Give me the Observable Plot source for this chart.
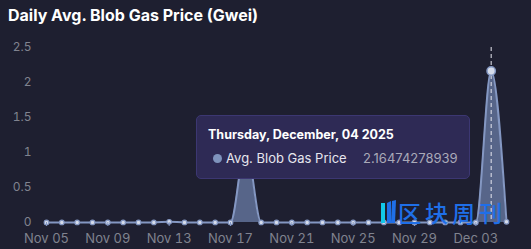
<!DOCTYPE html>
<html><head><meta charset="utf-8">
<script src="https://cdn.jsdelivr.net/npm/d3@7"></script>
<script src="https://cdn.jsdelivr.net/npm/@observablehq/plot@0.6"></script>
<style>
html,body{margin:0;padding:0;background:#1e1f30;}
#wrap{position:relative;width:531px;height:249px;overflow:hidden;font-family:Inter,"Noto Sans",sans-serif;}
#title{height:30px;line-height:30px;padding-left:8px;color:#fff;font-weight:700;font-size:16px;}
#tip{position:absolute;left:196px;top:115px;width:274px;height:64px;background:#2e2a55;border:1px solid #3c3772;border-radius:5px;box-sizing:border-box;}
#tip .h{position:absolute;left:11px;top:11px;color:#fff;font-weight:700;font-size:12.5px;white-space:nowrap;}
#tip .dot{position:absolute;left:16px;top:38px;width:9px;height:9px;border-radius:50%;background:#7f93bd;}
#tip .n{position:absolute;left:29px;top:34px;color:#e6e6ee;font-size:13px;white-space:nowrap;}
#tip .v{position:absolute;left:166px;top:34px;color:#a9a9b8;font-size:13px;white-space:nowrap;}
#wm{position:absolute;left:380px;top:200px;height:24px;white-space:nowrap;}
#wm .t{position:absolute;left:18px;top:1px;color:#1f6fe8;font-size:23px;line-height:23px;font-family:"Noto Sans CJK SC",sans-serif;font-weight:500;letter-spacing:4px;}
</style></head>
<body><div id="wrap"><div id="title">Daily Avg. Blob Gas Price (Gwei)</div><div id="chart"></div>
<div id="tip"><div class="h">Thursday, December, 04 2025</div><div class="dot"></div><div class="n">Avg. Blob Gas Price</div><div class="v">2.16474278939</div></div>
<div id="wm"><svg width="16" height="24" style="position:absolute;left:0;top:0"><polygon points="1,3 5,3 5,23 1,23" fill="#12c8e8"/><polygon points="7,3 11,1 11,23 7,23" fill="#1f6fe8"/><polygon points="12,1 16,0 15,23 11,23" fill="#1f6fe8"/></svg><span class="t">区块周刊</span></div>
</div>
<script>
const startDate = "2025-11-05";
const values = [0.001,0.001,0.001,0.001,0.001,0.001,0.001,0.001,0.01,0.001,0.001,0.001,0.001,1.1,0.001,0.001,
0.001,0.001,0.001,0.001,0.001,0.001,0.001,0.001,0.001,0.001,0.001,0.001,0.001,2.16474278939,0.01];
const yTicks = [0,0.5,1,1.5,2,2.5];
const xTickLabels = ["Nov 05","Nov 09","Nov 13","Nov 17","Nov 21","Nov 25","Nov 29","Dec 03"];
const highlightDate = "2025-12-04";

const t0 = new Date(startDate + "T00:00:00Z");
const data = values.map((v,i)=>({date:new Date(t0.getTime()+i*864e5), value:v}));
const xTicks = xTickLabels.map((_,i)=>new Date(t0.getTime()+i*4*864e5));
const hl = data.find(d=>+d.date===+new Date(highlightDate+"T00:00:00Z"));

const chart = Plot.plot({
  width:531, height:219,
  marginLeft:46, marginRight:25, marginTop:17, marginBottom:27,
  style:{background:"transparent", color:"#80838f", fontSize:"12px", fontFamily:"Inter, 'Noto Sans', sans-serif"},
  x:{type:"utc", domain:[data[0].date, data[data.length-1].date], label:null},
  y:{domain:[0,2.5], label:null},
  marks:[
    Plot.areaY(data,{x:"date",y:"value",curve:"monotone-x",fill:"#5d6d93",fillOpacity:0.9}),
    Plot.lineY(data,{x:"date",y:"value",curve:"monotone-x",stroke:"#8497c2",strokeWidth:2}),
    Plot.ruleX([hl],{x:"date",stroke:"#e8e8f0",strokeDasharray:"4,3",strokeWidth:1}),
    Plot.dot(data,{x:"date",y:"value",r:2.3,fill:"#d6dcea",stroke:"#8497c2",strokeWidth:1.2}),
    Plot.dot([hl],{x:"date",y:"value",r:4.2,fill:"#d6dcea",stroke:"#8497c2",strokeWidth:1.5}),
    Plot.axisY({ticks:yTicks,tickSize:0,tickPadding:15,tickFormat:d=>String(d),fill:"#80838f",label:null}),
    Plot.axisX({ticks:xTicks,tickSize:4,tickPadding:7,stroke:"#8497c2",tickFormat:(d,i)=>xTickLabels[i],fill:"#80838f",fontSize:13,label:null})
  ]
});
document.getElementById("chart").appendChild(chart);
</script></body></html>
